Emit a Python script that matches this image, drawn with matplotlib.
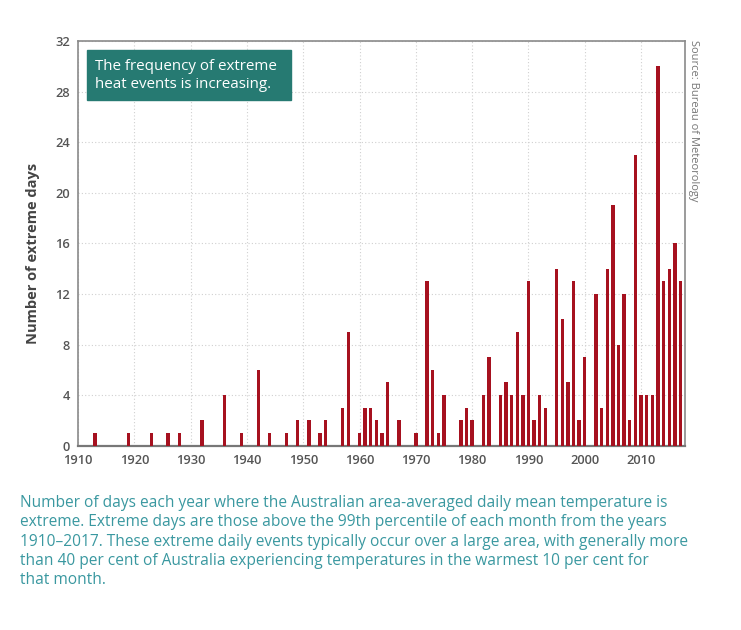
import matplotlib.pyplot as plt
from matplotlib.patches import Rectangle

plt.rcParams['font.family'] = ['Open Sans', 'DejaVu Sans']

# extreme days per year (years with no bar are left out)
years = [1913, 1919, 1923, 1926, 1928, 1932, 1936, 1939, 1942, 1944,
         1947, 1949, 1951, 1953, 1954, 1957, 1958, 1960, 1961, 1962,
         1963, 1964, 1965, 1967, 1970, 1972, 1973, 1974, 1975, 1978,
         1979, 1980, 1982, 1983, 1985, 1986, 1987, 1988, 1989, 1990,
         1991, 1992, 1993, 1995, 1996, 1997, 1998, 1999, 2000, 2002,
         2003, 2004, 2005, 2006, 2007, 2008, 2009, 2010, 2011, 2012,
         2013, 2014, 2015, 2016, 2017]
days = [1, 1, 1, 1, 1, 2, 4, 1, 6, 1,
        1, 2, 2, 1, 2, 3, 9, 1, 3, 3,
        2, 1, 5, 2, 1, 13, 6, 1, 4, 2,
        3, 2, 4, 7, 4, 5, 4, 9, 4, 13,
        2, 4, 3, 14, 10, 5, 13, 2, 7, 12,
        3, 14, 19, 8, 12, 2, 23, 4, 4, 4,
        30, 13, 14, 16, 13]

xticks = list(range(1910, 2011, 10))
yticks = list(range(0, 33, 4))

box_text = "The frequency of extreme\nheat events is increasing."
caption = ("Number of days each year where the Australian area-averaged daily mean temperature is\n"
           "extreme. Extreme days are those above the 99th percentile of each month from the years\n"
           "1910\u20132017. These extreme daily events typically occur over a large area, with generally more\n"
           "than 40 per cent of Australia experiencing temperatures in the warmest 10 per cent for\n"
           "that month.")

fig = plt.figure(figsize=(7.41, 6.3), dpi=100)
ax = fig.add_axes([0.1053, 0.2925, 0.8191, 0.6424])

ax.bar(years, days, width=0.6, color='#a6111f', zorder=3)

ax.set_xlim(1910, 2017.8)
ax.set_ylim(0, 32)
ax.set_xticks(xticks)
ax.set_yticks(yticks)
ax.tick_params(length=0, labelsize=9.3, colors='#555555', pad=6)
for lab in ax.get_xticklabels() + ax.get_yticklabels():
    lab.set_fontweight('semibold')
ax.grid(True, color='#d0d0d0', linestyle=(0, (1, 2)), linewidth=0.8, zorder=0)

for s in ['top', 'right', 'left']:
    ax.spines[s].set_color('#8a8a8a')
    ax.spines[s].set_linewidth(1.2)
ax.spines['bottom'].set_color('#777777')
ax.spines['bottom'].set_linewidth(1.6)

ax.set_ylabel('Number of extreme days', fontsize=10.5, fontweight='bold',
              color='#444444')
ax.yaxis.set_label_coords(-0.063, 0.475)

# teal note box
fig.patches.append(Rectangle((87 / 741, 1 - 100 / 630), 204 / 741, 50 / 630,
                             transform=fig.transFigure, color='#267a72', zorder=5))
fig.text(95 / 741, 1 - 75.5 / 630, box_text, color='white', fontsize=10.9,
         va='center', ha='left', linespacing=1.2, zorder=6)

fig.text(694 / 741, 1 - 40 / 630, 'Source: Bureau of Meteorology', rotation=-90,
         fontsize=8, color='#777777', va='top', ha='center')

fig.text(20 / 741, 1 - 495 / 630, caption, color='#3a98a0', fontsize=11.2,
         va='top', ha='left', linespacing=1.28)

fig.savefig('out.png', dpi=100)
